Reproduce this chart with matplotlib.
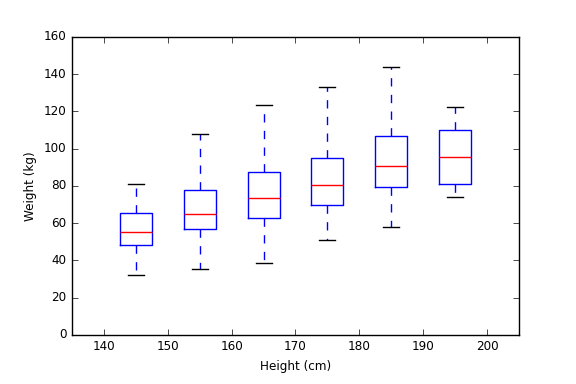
#! /usr/bin/env python3

'''
Box plot of weight by height group, classic matplotlib look
'''

import matplotlib
matplotlib.use('Agg')
import matplotlib.pyplot as plt


heights = [145, 155, 165, 175, 185, 195]
whisker_low = [32.0, 35.1, 38.8, 50.8, 57.8, 73.9]
q1 = [48.2, 56.7, 62.6, 69.8, 79.5, 80.9]
median = [55.1, 65.1, 73.4, 80.2, 90.6, 95.4]
q3 = [65.3, 77.7, 87.2, 94.9, 106.7, 110.1]
whisker_high = [81.1, 107.8, 123.3, 133.0, 143.7, 122.6]

xlabel = 'Height (cm)'
ylabel = 'Weight (kg)'


def main():
    plt.style.use('classic')
    plt.rcParams['font.size'] = 8.64
    fig = plt.figure(figsize=(5.76, 3.84), dpi=100)
    fig.patch.set_facecolor('white')
    ax = fig.add_subplot(111)
    fig.subplots_adjust(left=0.125, right=0.901, bottom=0.128, top=0.904)

    stats = []
    for i in range(len(heights)):
        stats.append({
            'whislo': whisker_low[i],
            'q1': q1[i],
            'med': median[i],
            'q3': q3[i],
            'whishi': whisker_high[i],
            'fliers': [],
        })
    ax.bxp(
        stats, positions=heights, widths=5, showfliers=False,
        boxprops=dict(color='b'),
        whiskerprops=dict(color='b', linestyle='--'),
        capprops=dict(color='k'),
        medianprops=dict(color='r'),
    )
    ax.set_xlim(135, 205)
    ax.set_ylim(0, 160)
    ax.set_xticks(range(140, 201, 10))
    ax.set_xticklabels([str(t) for t in range(140, 201, 10)])
    ax.set_xlabel(xlabel)
    ax.set_ylabel(ylabel)
    fig.savefig('out.png', dpi=100, facecolor='white')


if __name__ == '__main__':
    main()
